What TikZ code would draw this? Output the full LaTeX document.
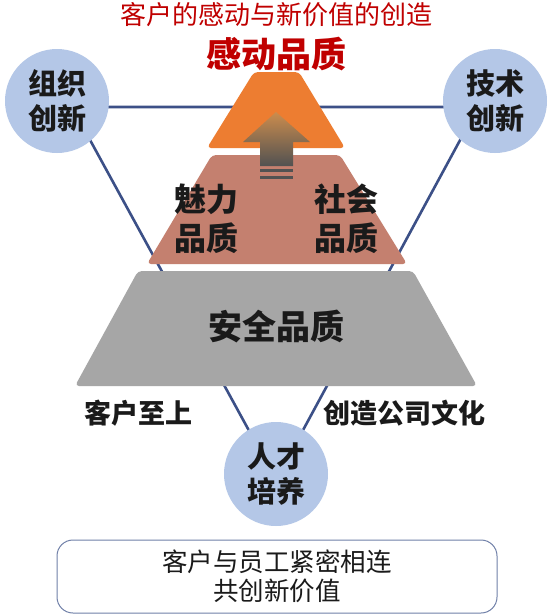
\documentclass[tikz,border=0pt]{standalone}
\usepackage{fontspec}
\newfontfamily\cjk{Noto Sans CJK SC}
\definecolor{orangeL}{HTML}{ED7D31}
\definecolor{pinkL}{HTML}{C4806F}
\definecolor{grayL}{HTML}{A6A6A6}
\definecolor{circ}{HTML}{B4C7E7}
\definecolor{triline}{HTML}{3C5087}
\definecolor{redT}{HTML}{C00000}
\definecolor{darkT}{HTML}{1A1A1A}
\definecolor{boxline}{HTML}{7080A8}
\begin{document}
\begin{tikzpicture}[x=1pt,y=-1pt,
  tri/.style={draw=triline,line width=2.6pt},
  bubble/.style={circle,fill=circ,minimum size=104pt,inner sep=0pt,align=center,
    font=\cjk\bfseries\fontsize{29}{35}\selectfont,text=darkT},
  layertxt/.style={align=center,font=\cjk\bfseries\fontsize{32}{39}\selectfont,text=darkT},
  sidetxt/.style={font=\cjk\bfseries\fontsize{27}{32}\selectfont,text=darkT},
  boxtxt/.style={align=center,font=\cjk\fontsize{25.5}{29}\selectfont,text=darkT}]
\useasboundingbox (0,0) rectangle (552,616);
\fill[white] (0,0) rectangle (552,616);
% triangle of connectors
\coordinate (tl) at (72,107);
\coordinate (tr) at (478,107);
\coordinate (bt) at (276,480);
\draw[tri] (tl) -- (tr) -- (bt) -- cycle;
% pyramid layers
\fill[grayL,rounded corners=4pt] (138,271) -- (413,271) -- (477,386) -- (75,386) -- cycle;
\fill[pinkL,rounded corners=4pt] (212,155) -- (340,155) -- (407,264) -- (147,264) -- cycle;
\fill[orangeL,rounded corners=4pt] (254,72) -- (299,72) -- (345,148) -- (207,148) -- cycle;
% gradient arrow
\shade[top color=orange!55!gray!90, bottom color=black!68]
  (276,112) -- (310,142) -- (293,142) -- (293,166) -- (260,166) -- (260,142) -- (243,142) -- cycle;
\fill[black!68] (260,169) rectangle (293,172);
\fill[black!68] (260,176) rectangle (293,179);
% circles
\node[bubble] (org) at (57,101) {组织\\创新};
\node[bubble] (tech) at (495,101) {技术\\创新};
\node[bubble] (talent) at (276,474) {人才\\培养};
% texts
\node[font=\cjk\fontsize{26}{30}\selectfont,text=redT] (title) at (276,15) {客户的感动与新价值的创造};
\node[font=\cjk\bfseries\fontsize{35}{40}\selectfont,text=redT] (top) at (276,54) {感动品质};
\node[layertxt] (charm) at (206,219) {魅力\\品质};
\node[layertxt] (social) at (346,219) {社会\\品质};
\node[font=\cjk\bfseries\fontsize{34}{40}\selectfont,text=darkT] (safe) at (276,327) {安全品质};
\node[sidetxt] (cust) at (138,413) {客户至上};
\node[sidetxt] (cult) at (404,413) {创造公司文化};
% bottom box
\node[draw=boxline,line width=1pt,rounded corners=16pt,minimum width=440pt,minimum height=73pt,
  boxtxt] (box) at (277,576.5) {客户与员工紧密相连\\共创新价值};
\end{tikzpicture}
\end{document}
